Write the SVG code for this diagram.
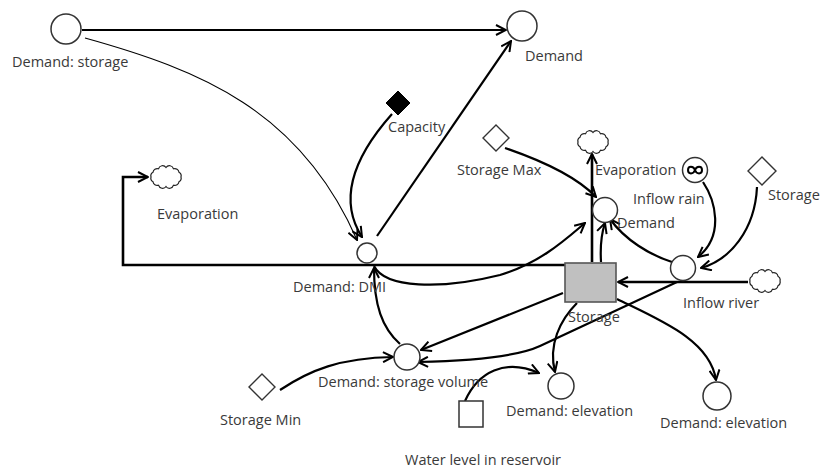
<svg xmlns="http://www.w3.org/2000/svg" width="821" height="468" viewBox="0 0 821 468">
  <style>
    .lbl { font-family: "Open Sans", "Liberation Sans", sans-serif; font-size: 14.5px; fill: #3a3a3a; }
    .aux { fill: #fff; stroke: #333; stroke-width: 1.5; }
    .cst { fill: #fff; stroke: #333; stroke-width: 1.4; }
    .cloud { fill: #fff; stroke: #222; stroke-width: 1.2; }
    .link { fill: none; stroke: #000; stroke-width: 2.2; marker-end: url(#arrow); }
    .thin { fill: none; stroke: #000; stroke-width: 1.1; marker-end: url(#arrow); }
    .pipe { fill: none; stroke: #000; stroke-width: 2.6; }
    .pipe-arrow { marker-end: url(#arrow); }
  </style>
  <defs>
    <marker id="arrow" viewBox="0 0 12 12" refX="11" refY="6" markerWidth="12" markerHeight="12" markerUnits="userSpaceOnUse" orient="auto">
      <path d="M1,1 L11,6 L1,11" fill="none" stroke="#000" stroke-width="2" stroke-linejoin="miter"/>
    </marker>
    <path id="cloudShape" d="M15,0 A4.2,4.2 0 0 1 13,4.75 A4.2,4.2 0 0 1 7.5,8.2 A4.2,4.2 0 0 1 0,9.5 A4.2,4.2 0 0 1 -7.5,8.2 A4.2,4.2 0 0 1 -13,4.75 A4.2,4.2 0 0 1 -15,0 A4.2,4.2 0 0 1 -13,-4.75 A4.2,4.2 0 0 1 -7.5,-8.2 A4.2,4.2 0 0 1 0,-9.5 A4.2,4.2 0 0 1 7.5,-8.2 A4.2,4.2 0 0 1 13,-4.75 A4.2,4.2 0 0 1 15,0 Z"/>
  </defs>

  <!-- connectors and flow pipes -->
  <g id="connectors">
    <!-- flow: Storage out to Evaporation (left) -->
    <path class="pipe pipe-arrow" d="M565,265 L123,265 L123,177 L148,177"/>
    <!-- flow: Storage out to Evaporation (top) -->
    <path class="pipe pipe-arrow" d="M592,262 L592,154"/>
    <!-- flow: Inflow river into Storage -->
    <path class="pipe pipe-arrow" d="M748,282 L618,282"/>

    <path class="link" d="M82,30 L506,30"/>
    <path class="thin" d="M85,38 C200,70 300,110 357,240"/>
    <path class="link" d="M392,114 C360,150 335,195 362,237"/>
    <path class="link" d="M377,236 L511,41"/>
    <path class="link" d="M601,262 C600,245 602,232 605,223"/>
    <path class="link" d="M505,148 C540,160 575,175 596,197"/>
    <path class="link" d="M703,182 C715,200 725,235 698,257"/>
    <path class="link" d="M757,187 C755,230 730,260 701,268"/>
    <path class="link" d="M672,262 C650,255 625,240 610,219"/>
    <path class="link" d="M374,266 C385,288 440,290 500,275 C540,263 565,240 585,223"/>
    <path class="link" d="M400,344 C382,328 374,305 374,268"/>
    <path class="link" d="M563,293 L421,350"/>
    <path class="link" d="M677,282 L540,346 Q510,360 418,362"/>
    <path class="link" d="M280,390 C310,370 340,358 393,357"/>
    <path class="link" d="M465,401 C478,372 505,358 539,373"/>
    <path class="link" d="M577,303 C560,320 548,345 555,372"/>
    <path class="link" d="M617,299 C660,320 710,340 716,380"/>
  </g>

  <g id="demand-storage">
    <circle class="aux" cx="66" cy="29" r="15"/>
    <text class="lbl" x="12" y="67">Demand: storage</text>
  </g>
  <g id="demand-top">
    <circle class="aux" cx="522" cy="26" r="15"/>
    <text class="lbl" x="525" y="61">Demand</text>
  </g>
  <g id="capacity">
    <path d="M398,91 L410,103 L398,115 L386,103 Z" fill="#000" stroke="#000" stroke-width="1"/>
    <text class="lbl" x="388" y="132">Capacity</text>
  </g>
  <g id="evaporation-left">
    <use href="#cloudShape" class="cloud" transform="translate(166,177)"/>
    <text class="lbl" x="157" y="219">Evaporation</text>
  </g>
  <g id="demand-dmi">
    <circle class="aux" cx="367" cy="253" r="10"/>
    <text class="lbl" x="293" y="292">Demand: DMI</text>
  </g>
  <g id="storage-max">
    <path class="cst" d="M496,125 L509,138 L496,151 L483,138 Z"/>
    <text class="lbl" x="457" y="175">Storage Max</text>
  </g>
  <g id="evaporation-top">
    <use href="#cloudShape" class="cloud" transform="translate(593,142)"/>
    <text class="lbl" x="595" y="175">Evaporation</text>
  </g>
  <g id="demand-right">
    <circle class="aux" cx="605" cy="210" r="12.5"/>
    <text class="lbl" x="617" y="228">Demand</text>
  </g>
  <g id="inflow-rain">
    <circle class="aux" cx="695" cy="170" r="12.5"/>
    <path d="M688,170 C688,165.5 693.5,165.5 695,170 C696.5,174.5 702,174.5 702,170 C702,165.5 696.5,165.5 695,170 C693.5,174.5 688,174.5 688,170 Z" fill="none" stroke="#000" stroke-width="2"/>
    <text class="lbl" x="633" y="204">Inflow rain</text>
  </g>
  <g id="storage-param">
    <path class="cst" d="M762,157 L776,171 L762,185 L748,171 Z"/>
    <text class="lbl" x="768" y="200">Storage</text>
  </g>
  <g id="inflow-river">
    <circle class="aux" cx="683" cy="268" r="12.5"/>
    <use href="#cloudShape" class="cloud" transform="translate(765,281)"/>
    <text class="lbl" x="683" y="308">Inflow river</text>
  </g>
  <g id="storage">
    <rect x="565" y="263" width="51" height="39" fill="#c0c0c0" stroke="#555" stroke-width="1.6"/>
    <text class="lbl" x="568" y="322">Storage</text>
  </g>
  <g id="demand-storage-volume">
    <circle class="aux" cx="407" cy="357" r="13"/>
    <text class="lbl" x="318" y="387">Demand: storage volume</text>
  </g>
  <g id="storage-min">
    <path class="cst" d="M262,374 L275,387 L262,400 L249,387 Z"/>
    <text class="lbl" x="220" y="425">Storage Min</text>
  </g>
  <g id="water-level">
    <rect x="459" y="401" width="24" height="26" fill="#fff" stroke="#333" stroke-width="1.5"/>
    <text class="lbl" x="405" y="465">Water level in reservoir</text>
  </g>
  <g id="demand-elevation-left">
    <circle class="aux" cx="561" cy="386" r="13"/>
    <text class="lbl" x="506" y="416">Demand: elevation</text>
  </g>
  <g id="demand-elevation-right">
    <circle class="aux" cx="717" cy="396" r="14"/>
    <text class="lbl" x="660" y="428">Demand: elevation</text>
  </g>
</svg>
